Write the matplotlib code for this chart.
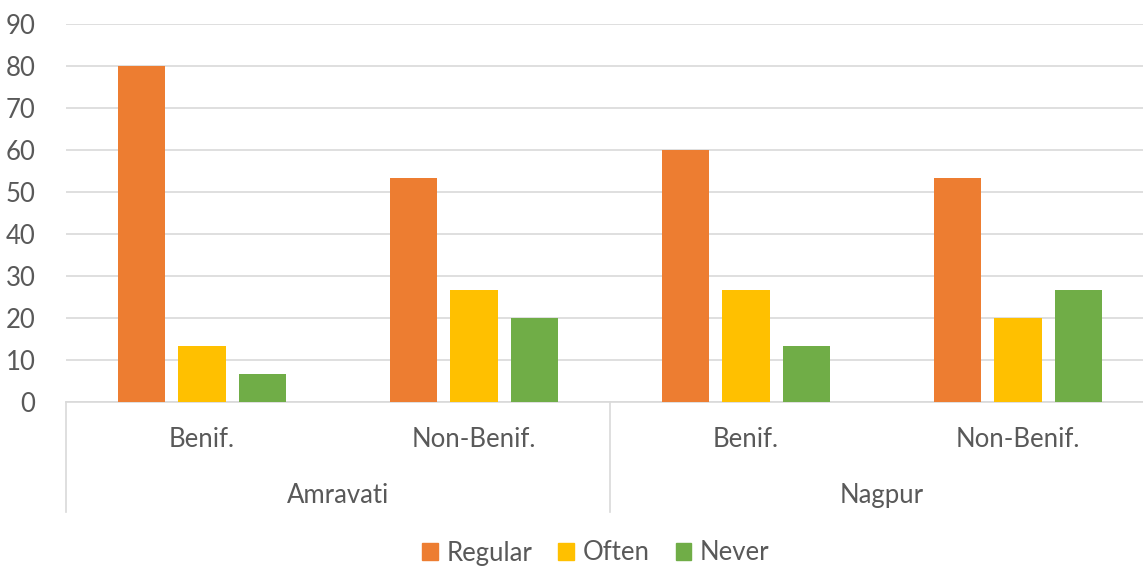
import numpy as np
import matplotlib
matplotlib.use('Agg')
import matplotlib.pyplot as plt
from matplotlib.lines import Line2D

categories = ["Benif.", "Non-Benif.", "Benif.", "Non-Benif."]
groups = ["Amravati", "Nagpur"]
series = ["Regular", "Often", "Never"]
regular = [80, 53.3, 60, 53.3]
often = [13.3, 26.7, 26.7, 20]
never = [6.7, 20, 13.3, 26.7]
colors = ["#ED7D31", "#FFC000", "#70AD47"]

plt.rcParams['font.family'] = ['Lato', 'DejaVu Sans']
text_col = "#595959"
fs = 18.5

W, H = 1143, 566
fig = plt.figure(figsize=(W / 100, H / 100), dpi=100)
ax = fig.add_axes([66 / W, 1 - 402 / H, (1154 - 66) / W, (402 - 24) / H])

x = np.arange(len(categories))
width = 0.175
offset = 0.222
for i, (vals, name) in enumerate(zip([regular, often, never], series)):
    ax.bar(x + (i - 1) * offset, vals, width, color=colors[i], label=name, zorder=3)

ax.set_xlim(-0.5, len(categories) - 0.5)
ax.set_ylim(0, 90)
ax.set_yticks(range(0, 91, 10))
ax.tick_params(axis='y', length=0, labelsize=fs, labelcolor=text_col, pad=22)
ax.tick_params(axis='x', length=0, labelbottom=False)
ax.grid(axis='y', color="#d9d9d9", linewidth=1.2, zorder=0)
for s in ['top', 'right', 'left']:
    ax.spines[s].set_visible(False)
ax.spines['bottom'].set_color("#d9d9d9")
ax.spines['bottom'].set_linewidth(1.2)

trans = ax.get_xaxis_transform()
for xi, lab in zip(x, categories):
    ax.text(xi, -0.10, lab, transform=trans, ha='center', va='center',
            fontsize=fs, color=text_col)
for gi, g in enumerate(groups):
    ax.text(gi * 2 + 0.5, -0.247, g, transform=trans, ha='center', va='center',
            fontsize=fs, color=text_col)
for bx in [-0.5, 1.5, 3.5]:
    ax.add_line(Line2D([bx, bx], [0, -0.291], transform=trans, color="#d9d9d9",
                       linewidth=1.2, clip_on=False))

handles = [plt.Rectangle((0, 0), 1, 1, color=c) for c in colors]
fig.legend(handles, series, loc='center', bbox_to_anchor=(596 / W, 1 - 553 / H),
           ncol=3, frameon=False, fontsize=fs, handlelength=0.6, handleheight=0.6,
           handletextpad=0.35, columnspacing=1.0, labelcolor=text_col)

fig.savefig("out.png", dpi=100)
